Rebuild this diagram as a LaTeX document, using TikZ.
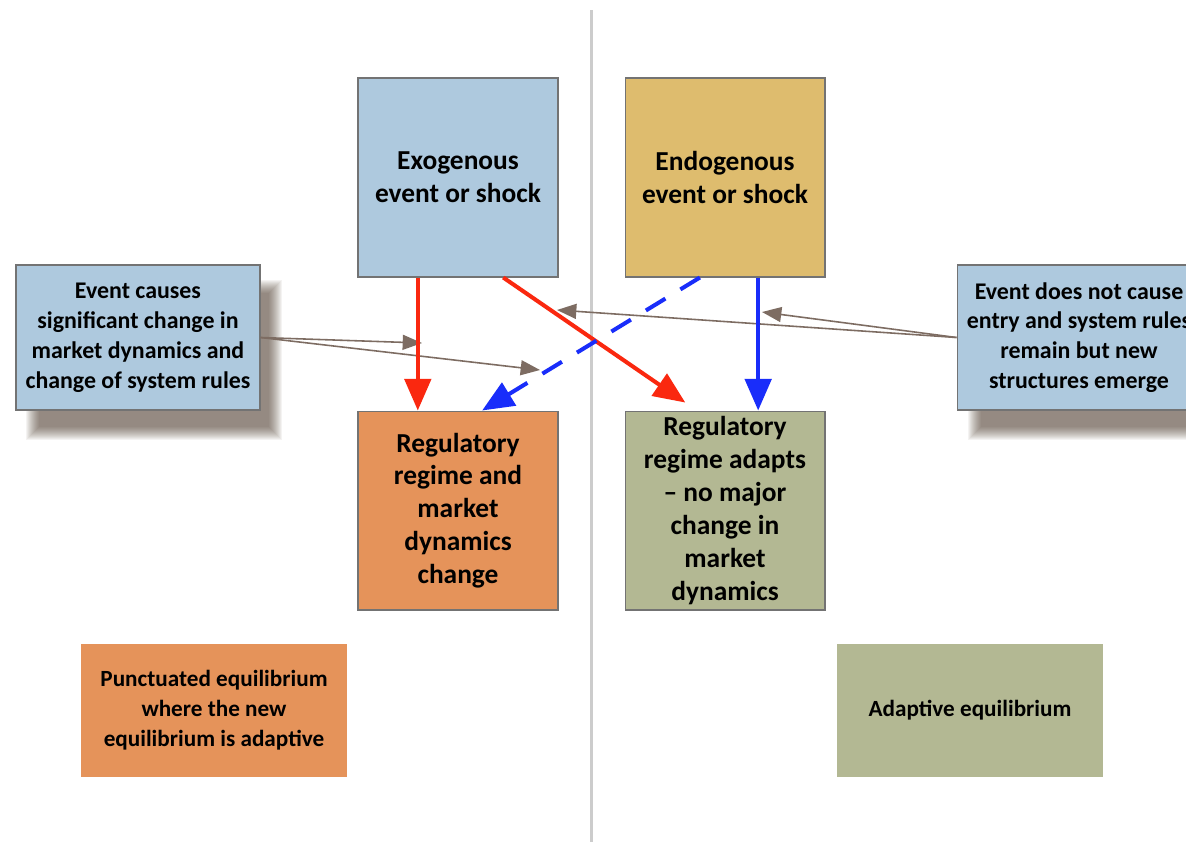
\documentclass[tikz,border=0pt]{standalone}
\usepackage{fontspec}
\setmainfont{Carlito}
\usetikzlibrary{arrows.meta,calc}
\definecolor{exoblue}{RGB}{174,201,222}
\definecolor{endogold}{RGB}{222,188,110}
\definecolor{regorange}{RGB}{229,147,90}
\definecolor{regolive}{RGB}{179,184,147}
\definecolor{linkbrown}{RGB}{125,108,98}
\definecolor{shockred}{RGB}{250,40,15}
\definecolor{shockblue}{RGB}{25,45,250}
\definecolor{shadowbrown}{RGB}{70,50,35}
\tikzset{
  bigbox/.style={draw=gray!90!black, line width=0.6pt, minimum width=4cm, minimum height=3.98cm,
    inner ysep=0pt, align=center, font=\fontsize{15.6}{18.7}\selectfont\bfseries},
  notebox/.style={draw=gray!90!black, line width=0.6pt, fill=exoblue, minimum width=4.88cm,
    minimum height=2.9cm, align=center, font=\fontsize{13.6}{17}\selectfont\bfseries},
  resultbox/.style={minimum width=5.32cm, minimum height=2.66cm, align=center,
    font=\fontsize{13.2}{17}\selectfont\bfseries},
  shockarrow/.style={line width=2.3pt, -{Triangle[length=18pt,width=15pt]}},
  linkarrow/.style={linkbrown, line width=0.9pt, -{Triangle[length=11pt,width=8.5pt]}},
}
\begin{document}
\begin{tikzpicture}[x=0.02cm, y=-0.02cm]
        \clip (0,0) rectangle (1186,842);
        \fill[white] (0,0) rectangle (1186,842);
        \draw[gray!40, line width=1.7pt] (591,10) -- (591,842);
        \foreach \b in {0,...,13} {
            \fill[shadowbrown, opacity=0.055] (26+\b,280+\b) rectangle (282-\b,440-\b);
            \fill[shadowbrown, opacity=0.055] (968+\b,280+\b) rectangle (1224-\b,440-\b);
        }
        \node[bigbox, fill=exoblue] (exo) at (458,177.5) {Exogenous\\event or shock};
        \node[bigbox, fill=endogold] (endo) at (725,177.5) {Endogenous\\event or shock};
        \node[bigbox, fill=regorange] (regchange) at (458,510.5) {Regulatory\\regime and\\market\\dynamics\\change};
        \node[bigbox, fill=regolive] (regadapt) at (725,510.5) {Regulatory\\regime adapts\\– no major\\change in\\market\\dynamics};
        \node[notebox] (causes) at (138,337.5) {Event causes\\significant change in\\market dynamics and\\change of system rules};
        \node[notebox] (notcause) at (1079,337.5) {Event does not cause\\entry and system rules\\remain but new\\structures emerge};
        \node[resultbox, fill=regorange] (punct) at (214,710.5) {Punctuated equilibrium\\where the new\\equilibrium is adaptive};
        \node[resultbox, fill=regolive] (adapt) at (970,710.5) {Adaptive equilibrium};
        \coordinate (lefttipa) at (422,343);
        \coordinate (lefttipb) at (540,370);
        \coordinate (righttipa) at (557,310);
        \coordinate (righttipb) at (762,312);
        \draw[linkarrow] (causes.east) -- (lefttipa);
        \draw[linkarrow] (causes.east) -- (lefttipb);
        \draw[linkarrow] (notcause.west) -- (righttipa);
        \draw[linkarrow] (notcause.west) -- (righttipb);
        \draw[shockarrow, shockred] ($(exo.south west)!.3!(exo.south east)$) -- ($(regchange.north west)!.3!(regchange.north east)$);
        \draw[shockarrow, shockred, shorten >=8pt] ($(exo.south west)!.725!(exo.south east)$) -- ($(regadapt.north west)!.36!(regadapt.north east)$);
        \draw[shockarrow, shockblue, dash pattern=on 13pt off 10pt] ($(endo.south west)!.375!(endo.south east)$) -- ($(regchange.north west)!.62!(regchange.north east)$);
        \draw[shockarrow, shockblue] ($(endo.south west)!.665!(endo.south east)$) -- ($(regadapt.north west)!.665!(regadapt.north east)$);
\end{tikzpicture}
\end{document}
